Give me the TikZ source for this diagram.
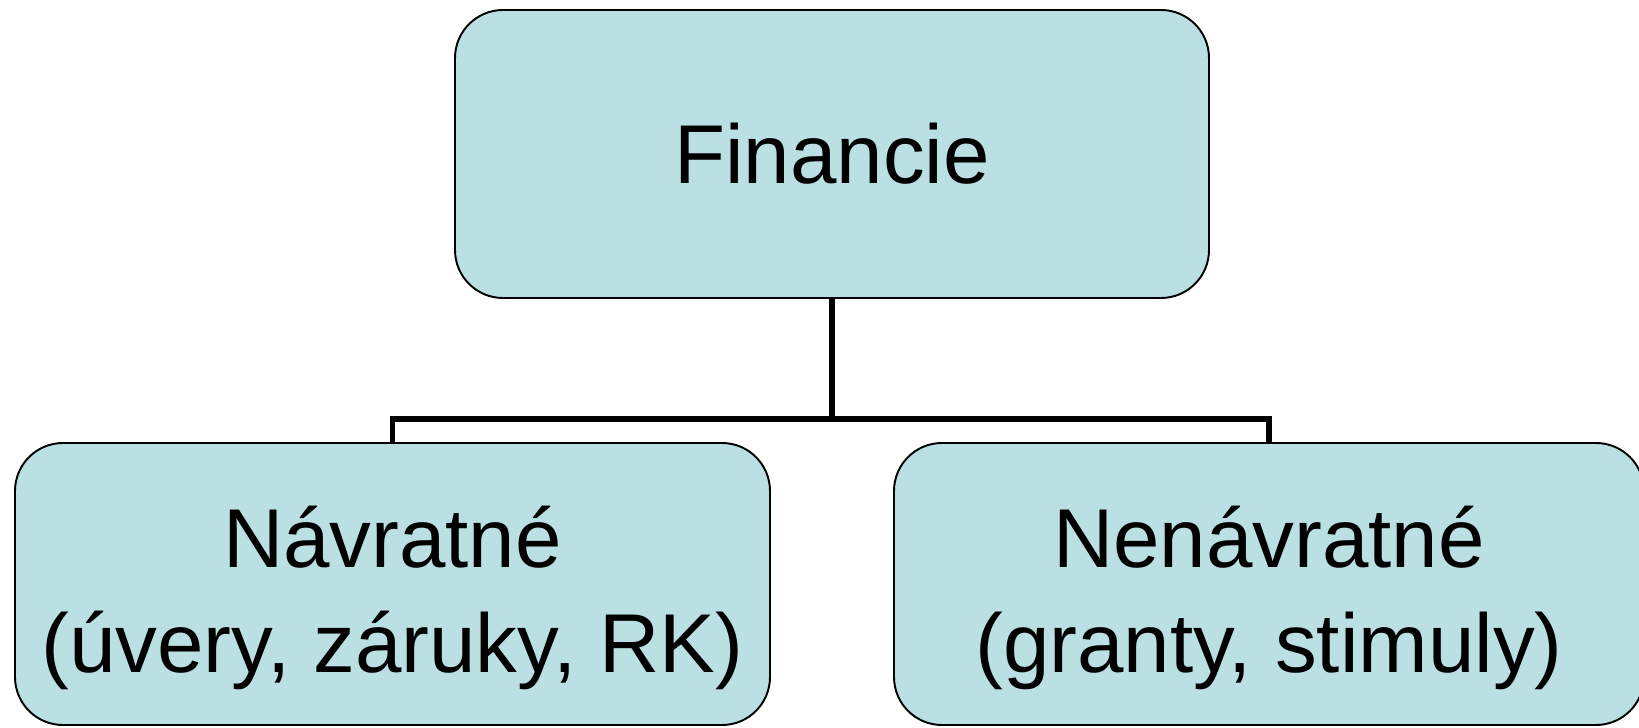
\documentclass[tikz,border=0pt]{standalone}
\usepackage{fontspec}
\setmainfont{Liberation Sans}
\usetikzlibrary{positioning, calc}
\definecolor{boxfill}{HTML}{BBE0E3}
\newcommand{\boxlines}[2]{\raisebox{-0.3cm}[\height][\depth]{\begin{tabular}{@{}c@{}}#1\\#2\end{tabular}}}
\tikzset{
  orgbox/.style={
    rectangle, rounded corners=0.96cm, draw=black, line width=1.1pt,
    fill=boxfill, align=center, inner sep=0pt,
    font=\fontsize{47.5}{59.5}\selectfont
  },
  link/.style={
    draw=black, line width=3.3pt
  }
}
\begin{document}
\begin{tikzpicture}
  \useasboundingbox (0,0) rectangle (32.78,-14.56);
  \node[orgbox, minimum width=15.08cm, minimum height=5.76cm] (fin) at (16.64,-3.08) {Financie};
  \node[orgbox, minimum width=15.1cm, minimum height=5.64cm] (navr) at (7.85,-11.68) {\boxlines{Návratné}{(úvery, záruky, RK)}};
  \node[orgbox, minimum width=15.0cm, minimum height=5.64cm] (nenavr) at (25.38,-11.68) {\boxlines{Nenávratné}{(granty, stimuly)}};
  \coordinate (split) at ($(fin.south)+(0,-2.4)$);
  \draw[link] (fin.south) -- (split) -| (navr.north);
  \draw[link] (split) -| (nenavr.north);
\end{tikzpicture}
\end{document}
